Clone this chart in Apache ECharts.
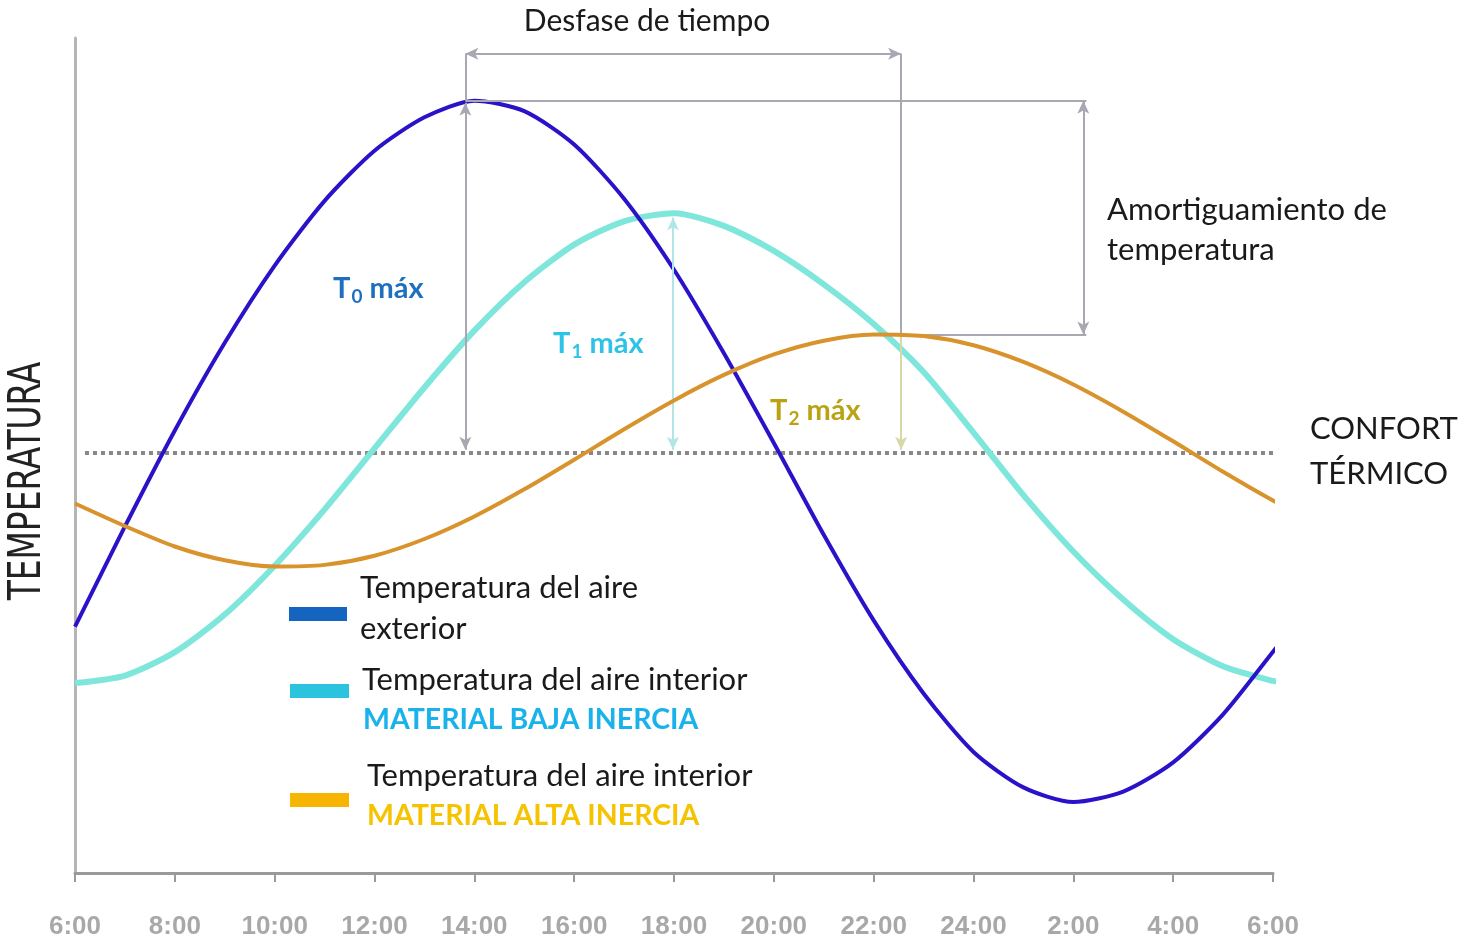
<!DOCTYPE html>
<html>
<head>
    <meta charset="utf-8">
    <title>Inercia térmica</title>
    <script src="https://cdn.jsdelivr.net/npm/echarts/dist/echarts.min.js"></script>
    <style>
        html, body { margin: 0; padding: 0; background: #fff; }
    </style>
</head>
<body>
<div id="main" style="width: 1470px;height:942px;"></div>
<script type="text/javascript">
    // horas desde las 6:00
    var hours = [0, 1, 2, 3, 4, 5, 6, 7, 8, 9, 10, 11, 12, 13, 14, 15, 16, 17, 18, 19, 20, 21, 22, 23, 24, 24.3];
    var tickLabels = ['6:00', '8:00', '10:00', '12:00', '14:00', '16:00', '18:00', '20:00', '22:00', '24:00', '2:00', '4:00', '6:00'];

    var exterior = [15.9, 18.3, 20.6, 22.7, 24.55, 26.1, 27.3, 28.1, 28.5, 28.25, 27.45, 26.15, 24.45, 22.45, 20.3, 18.1, 16.05, 14.3, 12.9, 12.05, 11.7, 11.95, 12.65, 13.8, 15.3, 15.75];
    var bajaInercia = [14.55, 14.73, 15.29, 16.19, 17.36, 18.71, 20.17, 21.63, 22.99, 24.15, 25.05, 25.61, 25.8, 25.5, 24.9, 24.1, 23.15, 22.0, 20.55, 19.05, 17.7, 16.55, 15.6, 14.95, 14.6, 14.55];
    var altaInercia = [18.85, 18.31, 17.82, 17.49, 17.34, 17.38, 17.6, 18.0, 18.54, 19.19, 19.9, 20.63, 21.32, 21.93, 22.42, 22.75, 22.9, 22.86, 22.64, 22.24, 21.7, 21.05, 20.34, 19.61, 18.92, 18.75];

    var confort = 20.06;
    // posiciones de las cotas (hora, temperatura)
    var xT0 = 7.82, xT1 = 11.98, xT2 = 16.55, xAmort = 20.2, xCotaFin = 20.26;
    var yDesfase = 29.62, yT1top = 25.7;

    function pairs(vals) {
        return hours.map(function (h, i) { return [h, vals[i]]; });
    }

    var t0max = Math.max.apply(null, exterior);
    var t2max = Math.max.apply(null, altaInercia);

    var gris = '#a8a8b2';
    function seg(a, b, color, s1, s2) {
        return [
            { coord: a, symbol: s1 || 'none', lineStyle: { color: color || gris, width: 2, type: 'solid' } },
            { coord: b, symbol: s2 || 'none' }
        ];
    }

    var myChart = echarts.init(document.getElementById('main'));

    var font = 'Lato, "Open Sans", sans-serif';
    function tLabel(sub, color) {
        return {
            text: '{t|T}{s|' + sub + '}{t| máx}', align: 'left', verticalAlign: 'middle',
            rich: {
                t: { fontSize: 29, fontWeight: 'bold', fontFamily: font, fill: color },
                s: { fontSize: 19, fontWeight: 'bold', fontFamily: font, fill: color, padding: [16, 0, 0, 1] }
            }
        };
    }
    function txt(x, y, text, size, color, extra) {
        var st = { text: text, fill: color || '#1a1a1a', font: size + 'px ' + font, align: 'left', verticalAlign: 'middle' };
        for (var k in extra) st[k] = extra[k];
        return { type: 'text', x: x, y: y, style: st };
    }

    myChart.setOption({
        animation: false,
        backgroundColor: '#fff',
        grid: { left: 75, right: 197, top: 38, bottom: 69 },
        xAxis: {
            type: 'value',
            min: 0,
            max: 24,
            interval: 2,
            axisLine: { lineStyle: { color: '#9a9a9a', width: 3 } },
            axisTick: { show: true, length: 9, lineStyle: { color: '#9a9a9a', width: 2 } },
            splitLine: { show: false },
            axisLabel: {
                margin: 41,
                color: '#a8a8a8',
                fontSize: 26,
                fontWeight: 'bold',
                fontFamily: 'Liberation Sans, Arial, sans-serif',
                formatter: function (v) { return tickLabels[Math.round(v / 2)]; }
            }
        },
        yAxis: {
            type: 'value',
            min: 10,
            max: 30,
            axisLine: { show: true, lineStyle: { color: '#b5b5b5', width: 3 } },
            axisTick: { show: false },
            axisLabel: { show: false },
            splitLine: { show: false }
        },
        series: [
            {
                name: 'Confort térmico',
                type: 'line',
                data: [[0.2, confort], [24.05, confort]],
                showSymbol: false,
                clip: false,
                z: 1,
                silent: true,
                lineStyle: { color: '#888888', width: 4, type: 'dotted' }
            },
            {
                name: 'cotas',
                type: 'line',
                data: [],
                z: 1,
                silent: true,
                markLine: {
                    silent: true,
                    animation: false,
                    symbolSize: [9, 13],
                    label: { show: false },
                    data: [
                        seg([xT0, t0max - 0.05], [xT0, confort + 0.08], gris, 'arrow', 'arrow'),
                        seg([xT0, yDesfase], [xT0, t0max]),
                        seg([xT0, t0max], [xCotaFin, t0max]),
                        seg([xAmort, t0max], [xAmort, t2max], gris, 'arrow', 'arrow'),
                        seg([xT2, t2max], [xCotaFin, t2max]),
                        seg([xT0, yDesfase], [xT2, yDesfase], gris, 'arrow', 'arrow'),
                        seg([xT2, yDesfase], [xT2, t2max]),
                        seg([xT2, t2max], [xT2, confort + 0.08], '#d6d9a6', 'none', 'arrow'),
                        seg([xT1, yT1top], [xT1, confort + 0.08], '#b2e6e6', 'arrow', 'arrow')
                    ]
                }
            },
            {
                name: 'Temperatura del aire exterior',
                type: 'line',
                data: pairs(exterior),
                smooth: 0.25,
                showSymbol: false,
                clip: false,
                z: 4,
                lineStyle: { color: '#2a12c9', width: 4 }
            },
            {
                name: 'Material baja inercia',
                type: 'line',
                data: pairs(bajaInercia),
                smooth: 0.25,
                showSymbol: false,
                clip: false,
                z: 3,
                lineStyle: { color: '#7fe6dc', width: 6 }
            },
            {
                name: 'Material alta inercia',
                type: 'line',
                data: pairs(altaInercia),
                smooth: 0.25,
                showSymbol: false,
                clip: false,
                z: 5,
                lineStyle: { color: '#d8932d', width: 4 }
            }
        ],
        graphic: [
            {
                type: 'text', x: 29, y: 481, rotation: Math.PI / 2, scaleX: 0.83,
                style: {
                    text: 'TEMPERATURA', fill: '#222',
                    font: '44px "Liberation Sans Narrow", "DejaVu Sans Condensed", sans-serif',
                    align: 'center', verticalAlign: 'middle'
                }
            },
            txt(647, 21, 'Desfase de tiempo', 30, '#1a1a1a', { align: 'center' }),
            txt(1107, 230, 'Amortiguamiento de\ntemperatura', 31, '#1a1a1a', { lineHeight: 40 }),
            txt(1310, 451, 'CONFORT\nTÉRMICO', 31, '#1a1a1a', { lineHeight: 45 }),
            { type: 'text', x: 333, y: 289, style: tLabel('0', '#1f6fbf') },
            { type: 'text', x: 553, y: 344, style: tLabel('1', '#2ec3e6') },
            { type: 'text', x: 770, y: 411, style: tLabel('2', '#b9a315') },
            // leyenda
            { type: 'rect', shape: { x: 289, y: 607, width: 58, height: 14 }, style: { fill: '#1565c0' } },
            { type: 'rect', shape: { x: 290, y: 684, width: 59, height: 14 }, style: { fill: '#2cc3df' } },
            { type: 'rect', shape: { x: 290, y: 793, width: 59, height: 14 }, style: { fill: '#f7b500' } },
            txt(360, 588, 'Temperatura del aire', 31),
            txt(360, 629, 'exterior', 31),
            txt(362, 680, 'Temperatura del aire interior', 31),
            txt(363, 720, 'MATERIAL BAJA INERCIA', 28.5, '#19b2ea', { font: 'bold 28.5px ' + font }),
            txt(367, 776, 'Temperatura del aire interior', 31),
            txt(367, 816, 'MATERIAL ALTA INERCIA', 28.5, '#f5c300', { font: 'bold 28.5px ' + font })
        ]
    });
</script>
</body>
</html>
